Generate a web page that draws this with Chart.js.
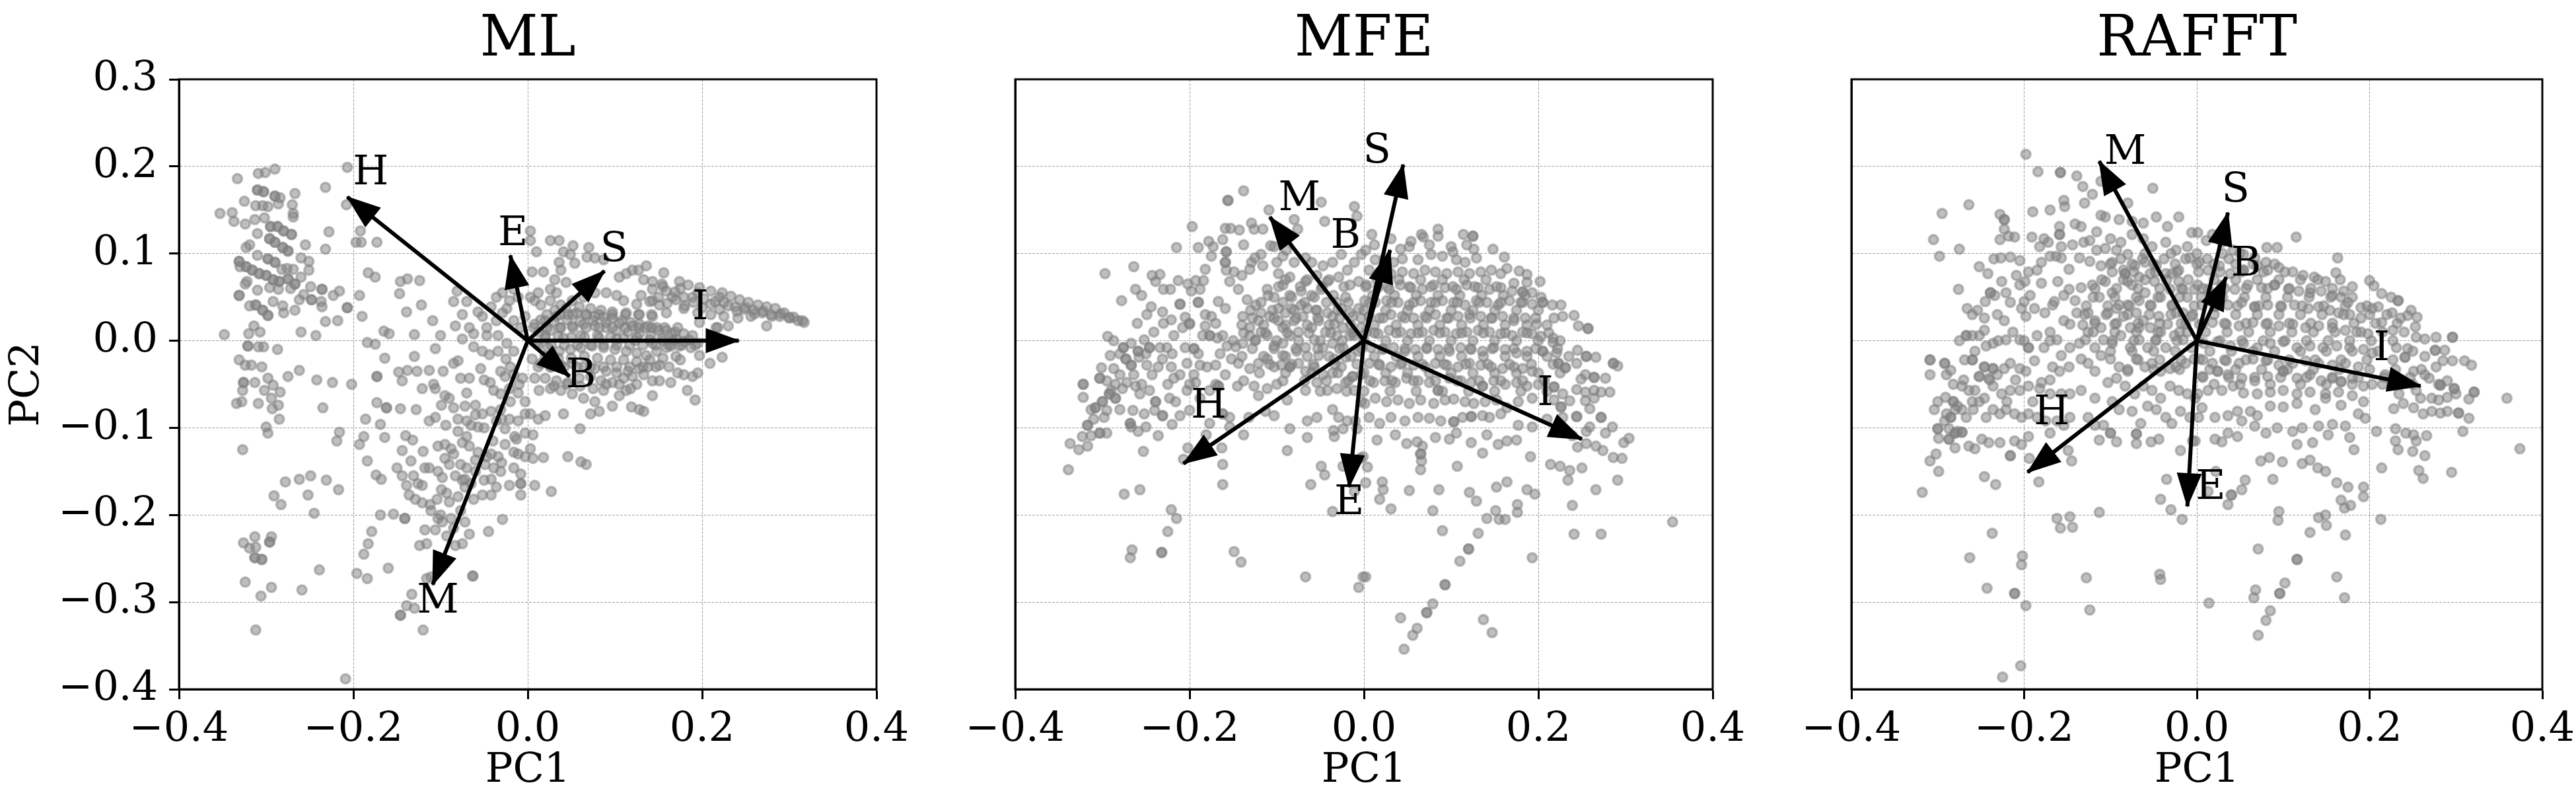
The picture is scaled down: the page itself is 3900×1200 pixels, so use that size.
<!DOCTYPE html>
<html>
<head>
<meta charset="utf-8">
<script src="https://cdn.jsdelivr.net/npm/chart.js@4.4.0/dist/chart.umd.min.js"></script>
<style>
  html, body { margin: 0; padding: 0; background: #fff; overflow: hidden; }
  body { width: 3900px; height: 1200px; position: relative; }
  canvas { position: absolute; top: 0; }
</style>
</head>
<body>
<canvas id="ml" width="1400" height="1200" style="left:0px"></canvas>
<canvas id="mfe" width="1240" height="1200" style="left:1420px"></canvas>
<canvas id="rafft" width="1230" height="1200" style="left:2690px"></canvas>
<script>
// axis ticks shared by the three panels
const xTicks = [-0.4, -0.2, 0, 0.2, 0.4];
const xTickLabels = ['\u22120.4', '\u22120.2', '0.0', '0.2', '0.4'];
const yTicks = [-0.4, -0.3, -0.2, -0.1, 0, 0.1, 0.2, 0.3];
const yTickLabels = ['\u22120.4', '\u22120.3', '\u22120.2', '\u22120.1', '0.0', '0.1', '0.2', '0.3'];

// ML panel: PC1 / PC2 scores
const mlPts = [
[-0.207,0.199],[-0.290,0.197],[-0.301,0.193],[-0.309,0.192],[-0.333,0.186],[-0.232,0.176],[-0.310,0.173],[-0.303,0.171],[-0.290,0.166],[-0.284,0.164],
[-0.267,0.169],[-0.325,0.160],[-0.208,0.156],[-0.312,0.155],[-0.304,0.155],[-0.298,0.154],[-0.286,0.157],[-0.270,0.156],[-0.353,0.146],[-0.339,0.147],
[-0.337,0.137],[-0.324,0.134],[-0.313,0.139],[-0.302,0.141],[-0.269,0.146],[-0.269,0.142],[-0.295,0.131],[-0.287,0.131],[-0.280,0.126],[-0.271,0.122],
[-0.310,0.123],[-0.228,0.125],[-0.192,0.126],[-0.296,0.117],[-0.290,0.113],[-0.281,0.107],[-0.275,0.103],[-0.323,0.107],[-0.319,0.110],[-0.255,0.110],
[-0.232,0.105],[-0.197,0.113],[-0.191,0.113],[-0.173,0.113],[-0.331,0.091],[-0.323,0.085],[-0.316,0.081],[-0.308,0.077],[-0.300,0.075],[-0.292,0.070],
[-0.285,0.068],[-0.275,0.071],[-0.267,0.065],[-0.330,0.085],[-0.310,0.098],[-0.298,0.094],[-0.290,0.090],[-0.282,0.082],[-0.276,0.083],[-0.269,0.082],
[-0.260,0.095],[-0.251,0.091],[-0.251,0.081],[-0.260,0.073],[-0.324,0.065],[-0.322,0.068],[-0.331,0.052],[-0.310,0.058],[-0.296,0.061],[-0.286,0.059],
[-0.272,0.060],[-0.257,0.053],[-0.249,0.062],[-0.236,0.059],[-0.223,0.052],[-0.216,0.057],[-0.248,0.047],[-0.237,0.045],[-0.207,0.038],[-0.193,0.052],
[-0.183,0.078],[-0.175,0.073],[-0.146,0.068],[-0.138,0.071],[-0.124,0.069],[-0.147,0.054],[-0.312,0.041],[-0.304,0.035],[-0.298,0.029],[-0.319,0.040],
[-0.292,0.045],[-0.281,0.040],[-0.280,0.032],[-0.267,0.035],[-0.262,0.047],[-0.236,0.039],[-0.232,0.022],[-0.218,0.023],[-0.190,0.028],[-0.139,0.033],
[-0.122,0.041],[-0.109,0.023],[-0.348,0.007],[-0.320,0.008],[-0.314,0.017],[-0.307,0.010],[-0.260,0.010],[-0.243,0.006],[-0.165,0.011],[-0.159,0.008],
[-0.130,0.007],[-0.100,0.006],[-0.321,-0.006],[-0.309,-0.007],[-0.303,-0.007],[-0.287,-0.010],[-0.184,-0.002],[-0.175,-0.004],[-0.164,-0.020],[-0.130,-0.018],
[-0.106,-0.009],[-0.331,-0.022],[-0.324,-0.028],[-0.317,-0.028],[-0.305,-0.030],[-0.275,-0.041],[-0.262,-0.034],[-0.242,-0.045],[-0.224,-0.048],[-0.202,-0.050],
[-0.173,-0.041],[-0.148,-0.036],[-0.138,-0.034],[-0.127,-0.035],[-0.113,-0.034],[-0.097,-0.035],[-0.326,-0.048],[-0.313,-0.048],[-0.298,-0.043],[-0.292,-0.051],
[-0.284,-0.059],[-0.327,-0.057],[-0.302,-0.057],[-0.294,-0.066],[-0.286,-0.074],[-0.293,-0.078],[-0.334,-0.072],[-0.328,-0.070],[-0.309,-0.072],[-0.235,-0.077],
[-0.173,-0.071],[-0.162,-0.077],[-0.146,-0.078],[-0.128,-0.079],[-0.108,-0.050],[-0.106,-0.055],[-0.121,-0.055],[-0.144,-0.046],[-0.285,-0.090],[-0.186,-0.090],
[-0.169,-0.096],[-0.300,-0.099],[-0.298,-0.106],[-0.216,-0.105],[-0.219,-0.115],[-0.327,-0.125],[-0.193,-0.119],[-0.188,-0.110],[-0.164,-0.111],[-0.140,-0.109],
[-0.132,-0.114],[-0.120,-0.127],[-0.144,-0.126],[-0.134,-0.138],[-0.184,-0.138],[-0.278,-0.162],[-0.262,-0.159],[-0.249,-0.155],[-0.231,-0.160],[-0.217,-0.171],
[-0.291,-0.178],[-0.252,-0.177],[-0.283,-0.188],[-0.245,-0.198],[-0.174,-0.154],[-0.168,-0.159],[-0.150,-0.146],[-0.118,-0.146],[-0.113,-0.146],[-0.169,-0.200],
[-0.154,-0.199],[-0.141,-0.204],[-0.313,-0.225],[-0.294,-0.225],[-0.326,-0.232],[-0.319,-0.238],[-0.312,-0.237],[-0.296,-0.231],[-0.313,-0.249],[-0.305,-0.251],
[-0.239,-0.263],[-0.324,-0.277],[-0.294,-0.283],[-0.306,-0.293],[-0.259,-0.286],[-0.196,-0.267],[-0.184,-0.273],[-0.160,-0.261],[-0.188,-0.245],[-0.183,-0.233],
[-0.179,-0.219],[-0.133,-0.291],[-0.139,-0.304],[-0.130,-0.307],[-0.146,-0.315],[-0.120,-0.332],[-0.312,-0.332],[-0.209,-0.388],[-0.063,-0.270],[-0.045,-0.219],
[-0.029,-0.205],[-0.008,-0.164],
[-0.085,0.045],[-0.081,0.057],[-0.070,0.045],[-0.075,0.030],[-0.057,0.033],[-0.067,0.015],[-0.052,0.028],[-0.042,0.039],[-0.036,0.050],[-0.029,0.055],
[-0.024,0.037],[-0.016,0.023],[-0.083,0.017],[-0.075,0.002],[-0.062,0.008],[-0.047,0.015],[-0.034,0.006],[-0.024,-0.003],[-0.016,-0.012],[-0.008,0.015],
[-0.003,0.028],[-0.062,-0.007],[-0.052,-0.012],[-0.044,-0.016],[-0.034,-0.012],[-0.025,-0.021],[-0.031,-0.035],[-0.026,-0.041],[-0.016,-0.039],[-0.006,-0.043],
[-0.077,-0.043],[-0.067,-0.043],[-0.085,-0.026],[-0.080,-0.023],[-0.054,-0.032],[-0.043,-0.048],[-0.039,-0.057],[-0.031,-0.061],[-0.021,-0.055],[-0.011,-0.060],
[-0.003,-0.070],[-0.095,-0.063],[-0.090,-0.066],[-0.099,-0.074],[-0.085,-0.077],[-0.072,-0.075],[-0.060,-0.074],[-0.052,-0.084],[-0.042,-0.081],[-0.031,-0.079],
[-0.021,-0.090],[-0.011,-0.092],[-0.003,-0.084],[-0.106,-0.088],[-0.113,-0.092],[-0.094,-0.097],[-0.080,-0.104],[-0.070,-0.092],[-0.065,-0.097],[-0.057,-0.099],
[-0.036,-0.092],[-0.026,-0.101],[-0.013,-0.113],[-0.003,-0.106],[-0.103,-0.121],[-0.095,-0.119],[-0.088,-0.124],[-0.075,-0.117],[-0.067,-0.121],[-0.057,-0.128],
[-0.047,-0.133],[-0.042,-0.130],[-0.034,-0.133],[-0.026,-0.119],[-0.016,-0.128],[-0.011,-0.130],[-0.003,-0.133],[-0.095,-0.135],[-0.090,-0.142],[-0.077,-0.142],
[-0.070,-0.146],[-0.060,-0.137],[-0.049,-0.142],[-0.039,-0.146],[-0.031,-0.150],[-0.016,-0.146],[-0.008,-0.153],[-0.103,-0.150],[-0.098,-0.157],[-0.083,-0.155],
[-0.072,-0.159],[-0.065,-0.164],[-0.042,-0.159],[-0.036,-0.168],[-0.021,-0.166],[-0.008,-0.177],[-0.131,-0.155],[-0.126,-0.164],[-0.121,-0.166],[-0.139,-0.166],
[-0.144,-0.155],[-0.136,-0.177],[-0.129,-0.182],[-0.121,-0.186],[-0.112,-0.188],[-0.104,-0.182],[-0.099,-0.171],[-0.093,-0.175],[-0.080,-0.179],[-0.072,-0.168],
[-0.062,-0.182],[-0.052,-0.177],[-0.042,-0.177],[-0.111,-0.195],[-0.103,-0.204],[-0.098,-0.208],[-0.088,-0.204],[-0.077,-0.195],[-0.072,-0.208],[-0.067,-0.222],
[-0.075,-0.233],[-0.083,-0.235],[-0.093,-0.224],[-0.106,-0.217],[-0.118,-0.217],[-0.124,-0.235],[-0.116,-0.233],[-0.111,-0.271],[-0.116,-0.273],[-0.047,0.006],
[-0.036,0.023],[-0.029,0.032],[-0.011,0.050],[-0.021,0.046],[-0.016,0.059],
[0.003,0.126],[0.003,0.115],[0.026,0.115],[0.036,0.115],[0.052,0.109],[0.070,0.107],[0.010,0.102],[0.041,0.102],[0.049,0.099],[0.036,0.090],
[0.054,0.089],[0.068,0.096],[0.077,0.095],[0.087,0.093],[0.005,0.079],[0.018,0.079],[0.038,0.081],[0.031,0.070],[0.044,0.067],[0.026,0.059],
[0.012,0.055],[0.033,0.055],[0.105,0.073],[0.113,0.077],[0.120,0.081],[0.127,0.081],[0.136,0.086],[0.156,0.078],[0.133,0.070],[0.143,0.068],
[0.154,0.065],[0.174,0.068],[0.184,0.064],[0.197,0.061],[0.210,0.057],[0.223,0.055],[0.233,0.051],[0.243,0.047],[0.253,0.044],[0.264,0.041],
[0.274,0.039],[0.284,0.037],[0.294,0.032],[0.305,0.027],[0.315,0.023],[0.256,0.028],[0.274,0.017],[0.230,0.017],[0.216,0.015],[0.197,0.021],
[0.166,0.050],[0.179,0.050],[0.151,0.041],[0.143,0.046],[0.125,0.042],[0.110,0.046],[0.102,0.052],[0.090,0.055],[0.077,0.055],[0.064,0.050],
[0.051,0.046],[0.038,0.041],[0.026,0.046],[0.015,0.041],[0.008,0.046],[0.003,0.050],
[0.143,0.059],[0.159,0.057],[0.169,0.056],[0.189,0.050],[0.202,0.048],[0.215,0.045],[0.225,0.044],[0.238,0.039],[0.248,0.036],[0.259,0.035],
[0.269,0.032],[0.279,0.030],[0.289,0.028],[0.300,0.027],[0.159,0.032],[0.179,0.037],[0.195,0.032],[0.210,0.030],[0.225,0.028],[0.241,0.026],
[0.008,0.019],[0.020,0.023],[0.033,0.028],[0.046,0.030],[0.056,0.032],[0.067,0.030],[0.077,0.028],[0.087,0.027],[0.097,0.026],[0.108,0.023],
[0.118,0.021],[0.128,0.019],[0.138,0.017],[0.148,0.015],[0.159,0.012],[0.169,0.010],[0.179,0.008],[0.189,0.006],
[0.013,0.010],[0.026,0.012],[0.038,0.015],[0.051,0.017],[0.064,0.019],[0.077,0.017],[0.090,0.015],[0.102,0.012],[0.115,0.010],[0.128,0.008],
[0.141,0.006],[0.154,0.003],[0.166,0.001],[0.179,-0.001],[0.195,-0.003],
[0.010,-0.003],[0.023,-0.008],[0.036,-0.012],[0.049,-0.010],[0.061,-0.008],[0.074,-0.006],[0.087,-0.008],[0.100,-0.010],[0.113,-0.012],[0.125,-0.014],
[0.136,-0.017],[0.148,-0.012],[0.159,-0.008],[0.174,-0.006],[0.187,-0.008],
[0.031,0.035],[0.044,0.037],[0.059,0.039],[0.072,0.037],[0.084,0.035],[0.097,0.033],[0.113,0.032],[0.128,0.030],[0.143,0.028],[0.061,0.006],
[0.082,0.003],[0.102,0.002],[0.123,0.000],[0.143,-0.003],[0.164,-0.006],[0.041,0.003],[0.020,0.003],
[0.005,-0.021],[0.015,-0.026],[0.026,-0.030],[0.038,-0.028],[0.051,-0.026],[0.064,-0.030],[0.077,-0.032],[0.090,-0.035],[0.102,-0.037],[0.115,-0.035],
[0.128,-0.032],[0.138,-0.030],[0.151,-0.028],
[0.008,-0.043],[0.020,-0.043],[0.033,-0.046],[0.046,-0.048],[0.059,-0.043],[0.072,-0.041],[0.084,-0.046],[0.097,-0.048],[0.110,-0.043],[0.120,-0.041],
[0.133,-0.039],[0.143,-0.046],[0.151,-0.046],[0.164,-0.048],[0.172,-0.037],[0.179,-0.039],[0.189,-0.041],[0.195,-0.037],
[0.013,-0.057],[0.026,-0.055],[0.038,-0.057],[0.051,-0.061],[0.064,-0.066],[0.077,-0.070],[0.087,-0.057],[0.097,-0.075],[0.105,-0.063],[0.113,-0.057],
[0.118,-0.055],[0.143,-0.063],[0.133,-0.081],[0.128,-0.079],[0.119,-0.076],[0.082,-0.081],[0.072,-0.084],[0.041,-0.084],[0.020,-0.086],[0.012,-0.090],
[0.003,-0.084],[0.183,-0.057],[0.192,-0.068],[0.060,-0.101],[0.006,-0.108],[0.003,-0.124],[0.006,-0.135],[0.018,-0.134],[0.046,-0.133],[0.061,-0.139],
[0.067,-0.142],[0.008,-0.166],[0.027,-0.173],[0.209,-0.026],[0.223,-0.019],[0.175,-0.022],[0.197,-0.017],[0.218,0.015],[0.310,0.023],[0.317,0.021]
];
// ML: overlapping observations in the densest places
const mlDensePts = [
[-0.310,0.173],[-0.303,0.171],[-0.290,0.166],[-0.295,0.131],[-0.287,0.131],[-0.280,0.126],[-0.271,0.122],[-0.296,0.117],[-0.290,0.113],[-0.281,0.107],
[-0.275,0.103],[-0.331,0.091],[-0.323,0.085],[-0.316,0.081],[-0.308,0.077],[-0.300,0.075],[-0.292,0.070],[-0.285,0.068],[-0.275,0.071],[-0.267,0.065],
[-0.298,0.094],[-0.290,0.090],[-0.331,0.052],[-0.236,0.059],[-0.248,0.047],[-0.207,0.038],[-0.312,0.041],[-0.304,0.035],[-0.298,0.029],[-0.321,-0.006],
[-0.326,-0.048],[-0.296,-0.231],[-0.313,-0.249],[-0.305,-0.251],[-0.173,-0.041],[-0.162,-0.077],[-0.141,-0.204],[-0.146,-0.315],[-0.063,-0.270],[-0.008,-0.164],
[0.015,0.024],[0.030,0.022],[0.045,0.024],[0.060,0.022],[0.075,0.023],[0.090,0.021],[0.105,0.020],[0.120,0.017],[0.135,0.015],[0.150,0.012],[0.165,0.008],
[0.020,0.006],[0.035,0.005],[0.050,0.004],[0.065,0.004],[0.080,0.006],[0.095,0.004],[0.110,0.003],[0.125,0.004],[0.140,0.001],[0.155,0.000],[0.170,0.002],[0.185,0.001],
[0.020,-0.018],[0.035,-0.020],[0.050,-0.020],[0.065,-0.018],[0.080,-0.020],[0.095,-0.022],[0.110,-0.022],[0.125,-0.024],[0.140,-0.022],[0.155,-0.020],[0.170,-0.018],
[0.030,-0.052],[0.045,-0.050],[0.060,-0.052],[0.075,-0.055],[0.090,-0.050],[0.105,-0.050],[0.125,-0.050],
[0.130,0.052],[0.150,0.050],[0.170,0.047],[0.190,0.044],[0.210,0.042],[0.230,0.040],[0.250,0.038],[0.270,0.034],[0.290,0.031],[0.155,0.062],
[0.175,0.060],[0.195,0.055],[0.220,0.050],
[-0.080,-0.090],[-0.070,-0.110],[-0.060,-0.085],[-0.050,-0.100],[-0.040,-0.115],[-0.030,-0.090],[-0.020,-0.070],[-0.085,-0.130],[-0.075,-0.160],[-0.090,-0.185],
[-0.100,-0.200],[-0.085,-0.215],[-0.060,-0.150],[-0.050,-0.160],[-0.030,-0.140],[-0.015,-0.110],[-0.010,-0.050],[-0.020,-0.030],[-0.050,-0.045],[-0.070,-0.060],
[0.022,0.030],[0.037,0.030],[0.052,0.030],[0.067,0.030],[0.082,0.030],[0.097,0.030],[0.112,0.030],[0.127,0.030],[0.142,0.030],
[0.007,0.015],[0.022,0.015],[0.037,0.015],[0.052,0.015],[0.067,0.015],[0.082,0.015],[0.097,0.015],[0.112,0.015],[0.127,0.015],[0.142,0.015],[0.157,0.015],[0.172,0.015],
[0.012,-0.005],[0.027,-0.005],[0.042,-0.005],[0.057,-0.005],[0.072,-0.005],[0.087,-0.005],[0.102,-0.005],[0.117,-0.005],[0.132,-0.005],[0.147,-0.005],
[0.162,-0.005],[0.177,-0.005],[0.192,-0.005],
[0.012,-0.030],[0.027,-0.030],[0.042,-0.030],[0.057,-0.030],[0.072,-0.030],[0.087,-0.030],[0.102,-0.030],[0.117,-0.030],[0.132,-0.030],[0.147,-0.030],[0.162,-0.030],
[0.140,0.045],[0.160,0.043],[0.180,0.040],[0.200,0.038],[0.220,0.036],[0.240,0.034],[0.260,0.031],[0.280,0.028],[0.300,0.026]
];
const mlArrowNames = ['H', 'E', 'S', 'I', 'B', 'M'];
const mlArrowTips = [[-0.207,0.165],[-0.020,0.098],[0.088,0.080],[0.242,0.000],[0.048,-0.041],[-0.109,-0.280]];
const mlArrowLabelAt = [[-0.180,0.192],[-0.017,0.122],[0.099,0.104],[0.198,0.037],[0.061,-0.041],[-0.103,-0.300]];

// MFE panel
const mfePts = [
[-0.138,0.172],[-0.156,0.161],[-0.109,0.150],[-0.049,0.159],[-0.011,0.154],[-0.008,0.143],[-0.197,0.131],[-0.159,0.129],[-0.153,0.129],[-0.143,0.127],
[-0.129,0.135],[-0.126,0.128],[-0.116,0.128],[-0.080,0.139],[-0.076,0.128],[-0.045,0.137],[-0.178,0.114],[-0.162,0.116],[-0.138,0.110],[-0.107,0.109],
[-0.103,0.108],[-0.089,0.104],[-0.215,0.107],[-0.190,0.107],[-0.173,0.108],[-0.158,0.102],[-0.118,0.099],[-0.297,0.077],[-0.264,0.085],[-0.243,0.075],
[-0.234,0.076],[-0.213,0.069],[-0.202,0.065],[-0.193,0.069],[-0.184,0.069],[-0.182,0.082],[-0.175,0.097],[-0.159,0.090],[-0.158,0.081],[-0.149,0.079],
[-0.140,0.075],[-0.131,0.082],[-0.129,0.090],[-0.125,0.095],[-0.116,0.086],[-0.100,0.090],[-0.093,0.097],[-0.080,0.090],[-0.067,0.095],[-0.060,0.090],
[-0.047,0.086],[-0.036,0.090],[-0.026,0.099],[-0.019,0.081],[-0.011,0.090],[-0.003,0.099],
[-0.262,0.059],[-0.255,0.052],[-0.278,0.046],[-0.244,0.039],[-0.249,0.030],[-0.231,0.033],[-0.221,0.024],[-0.211,0.042],[-0.205,0.027],[-0.190,0.044],
[-0.182,0.030],[-0.175,0.028],[-0.167,0.045],[-0.159,0.037],[-0.154,0.068],[-0.144,0.059],[-0.134,0.047],[-0.124,0.041],[-0.118,0.032],[-0.111,0.059],
[-0.103,0.050],[-0.093,0.064],[-0.083,0.050],[-0.072,0.057],[-0.065,0.037],[-0.057,0.050],[-0.049,0.059],[-0.042,0.032],[-0.031,0.044],[-0.021,0.050],
[-0.013,0.028],[-0.006,0.037],[-0.239,0.068],[-0.230,0.059],[-0.222,0.059],[-0.198,0.057],[-0.188,0.059],[-0.208,0.015],[-0.200,0.019],[-0.182,0.017],
[-0.139,0.028],[-0.131,0.015],[-0.121,0.023],[-0.108,0.028],[-0.098,0.023],[-0.090,0.032],[-0.080,0.023],[-0.070,0.028],[-0.060,0.015],[-0.052,0.023],
[-0.044,0.010],[-0.034,0.019],[-0.024,0.015],[-0.016,0.032],[-0.011,0.006],[-0.003,0.015],
[-0.294,0.005],[-0.287,0.000],[-0.276,-0.008],[-0.267,-0.003],[-0.259,-0.012],[-0.252,0.001],[-0.246,-0.008],[-0.241,0.010],[-0.234,-0.008],[-0.226,-0.008],
[-0.218,0.006],[-0.205,-0.008],[-0.195,-0.009],[-0.185,0.006],[-0.177,0.006],[-0.168,0.003],[-0.162,0.006],[-0.157,-0.006],[-0.147,-0.007],[-0.139,-0.003],
[-0.131,0.006],[-0.124,0.001],[-0.118,0.010],[-0.111,0.006],[-0.103,-0.006],[-0.093,-0.003],[-0.085,0.006],[-0.077,-0.012],[-0.067,-0.008],[-0.057,0.001],
[-0.047,-0.008],[-0.036,-0.003],[-0.024,-0.008],[-0.016,0.006],[-0.006,-0.012],
[-0.322,-0.050],[-0.322,-0.065],[-0.301,-0.031],[-0.303,-0.043],[-0.295,-0.046],[-0.291,-0.017],[-0.287,-0.032],[-0.280,-0.039],[-0.273,-0.021],[-0.267,-0.028],
[-0.264,-0.039],[-0.258,-0.019],[-0.249,-0.028],[-0.243,-0.039],[-0.236,-0.030],[-0.231,-0.021],[-0.221,-0.030],[-0.218,-0.043],[-0.211,-0.039],[-0.203,-0.026],
[-0.195,-0.039],[-0.188,-0.028],[-0.180,-0.030],[-0.170,-0.028],[-0.159,-0.039],[-0.152,-0.021],[-0.144,-0.026],[-0.131,-0.032],[-0.121,-0.026],[-0.111,-0.021],
[-0.103,-0.030],[-0.095,-0.028],[-0.085,-0.030],[-0.075,-0.026],[-0.067,-0.035],[-0.057,-0.030],[-0.047,-0.039],[-0.036,-0.037],[-0.026,-0.030],[-0.013,-0.041],
[-0.003,-0.039],
[-0.313,-0.079],[-0.308,-0.077],[-0.300,-0.070],[-0.292,-0.061],[-0.285,-0.066],[-0.280,-0.079],[-0.298,-0.088],[-0.310,-0.090],[-0.317,-0.097],[-0.313,-0.109],
[-0.303,-0.106],[-0.295,-0.106],[-0.323,-0.110],[-0.337,-0.118],[-0.327,-0.125],[-0.317,-0.121],[-0.339,-0.148],[-0.290,-0.057],[-0.277,-0.055],[-0.272,-0.048],
[-0.262,-0.052],[-0.257,-0.061],[-0.252,-0.084],[-0.246,-0.057],[-0.239,-0.070],[-0.231,-0.086],[-0.223,-0.066],[-0.216,-0.070],[-0.211,-0.086],[-0.203,-0.057],
[-0.193,-0.048],[-0.188,-0.066],[-0.177,-0.057],[-0.167,-0.052],[-0.162,-0.084],[-0.154,-0.088],[-0.145,-0.052],[-0.138,-0.046],[-0.126,-0.052],[-0.121,-0.063],
[-0.111,-0.055],[-0.100,-0.050],[-0.093,-0.046],[-0.088,-0.068],[-0.103,-0.086],[-0.113,-0.081],[-0.067,-0.057],[-0.054,-0.048],[-0.042,-0.057],[-0.031,-0.055],
[-0.021,-0.048],[-0.011,-0.057],[-0.003,-0.070],[-0.036,-0.079],[-0.029,-0.088],[-0.019,-0.092],[-0.008,-0.101],[-0.065,-0.092],[-0.054,-0.088],[-0.268,-0.095],
[-0.267,-0.099],[-0.259,-0.104],[-0.250,-0.099],[-0.236,-0.109],[-0.220,-0.096],[-0.181,-0.108],[-0.177,-0.095],[-0.163,-0.123],[-0.154,-0.099],[-0.138,-0.108],
[-0.132,-0.088],[-0.085,-0.101],[-0.065,-0.111],[-0.035,-0.103],[-0.034,-0.110],[-0.024,-0.101],[-0.010,-0.092],[-0.253,-0.127],[-0.202,-0.123],[-0.207,-0.136],
[-0.162,-0.142],[-0.162,-0.165],[-0.088,-0.126],[-0.049,-0.144],[-0.045,-0.154],[-0.061,-0.165],[-0.024,-0.144],[-0.004,-0.135],[-0.275,-0.176],[-0.257,-0.171],
[-0.221,-0.194],[-0.215,-0.204],[-0.225,-0.219],[-0.266,-0.240],[-0.268,-0.249],[-0.232,-0.243],[-0.149,-0.242],[-0.141,-0.254],[-0.067,-0.271],[-0.036,-0.196],
[-0.011,-0.173],[-0.001,-0.271],[-0.006,-0.283],
[-0.098,0.077],[-0.085,0.073],[-0.067,0.068],[-0.054,0.075],[-0.042,0.068],[-0.029,0.073],[-0.016,0.064],[-0.006,0.068],[-0.098,0.037],[-0.083,0.037],
[-0.072,0.041],[-0.054,0.035],[-0.036,0.028],[-0.026,0.037],[-0.093,0.015],[-0.075,0.010],[-0.031,0.006],[-0.052,-0.017],[-0.034,-0.021],[-0.021,-0.019],
[-0.093,-0.017],
[0.009,0.122],[0.012,0.110],[0.031,0.117],[0.042,0.105],[0.052,0.108],[0.054,0.114],[0.066,0.122],[0.068,0.119],[0.075,0.110],[0.085,0.128],
[0.085,0.120],[0.100,0.108],[0.102,0.102],[0.114,0.122],[0.118,0.110],[0.125,0.120],[0.126,0.105],[0.129,0.095],[0.148,0.105],[0.161,0.096],
[0.164,0.083],[0.178,0.080],[0.187,0.076],[0.202,0.068],[0.187,0.067],[0.172,0.066],[0.002,0.104],[0.013,0.093],[0.024,0.095],[0.034,0.090],
[0.044,0.094],[0.062,0.093],[0.077,0.099],[0.090,0.097],[0.106,0.093],[0.116,0.090],
[0.006,0.081],[0.018,0.079],[0.031,0.077],[0.044,0.079],[0.057,0.077],[0.070,0.081],[0.082,0.079],[0.095,0.077],[0.108,0.079],[0.121,0.077],
[0.134,0.079],[0.146,0.081],[0.157,0.077],
[0.003,0.064],[0.016,0.061],[0.029,0.059],[0.042,0.064],[0.054,0.061],[0.067,0.059],[0.080,0.064],[0.093,0.061],[0.106,0.059],[0.118,0.064],
[0.131,0.061],[0.144,0.059],[0.157,0.061],[0.170,0.057],[0.182,0.056],[0.193,0.055],[0.203,0.050],
[0.001,0.046],[0.013,0.044],[0.026,0.046],[0.039,0.044],[0.052,0.041],[0.065,0.046],[0.077,0.044],[0.090,0.046],[0.103,0.044],[0.116,0.041],
[0.129,0.046],[0.141,0.044],[0.154,0.041],[0.167,0.046],[0.180,0.044],[0.193,0.042],[0.205,0.044],[0.216,0.041],[0.226,0.041],
[0.006,0.028],[0.018,0.026],[0.031,0.030],[0.044,0.028],[0.057,0.026],[0.070,0.028],[0.082,0.030],[0.095,0.026],[0.108,0.028],[0.121,0.030],
[0.134,0.028],[0.146,0.026],[0.159,0.028],[0.172,0.023],[0.185,0.026],[0.198,0.019],[0.218,0.026],[0.228,0.028],[0.241,0.029],[0.246,0.017],
[0.257,0.014],
[0.003,0.010],[0.016,0.008],[0.029,0.012],[0.042,0.010],[0.054,0.008],[0.067,0.010],[0.080,0.012],[0.093,0.010],[0.106,0.008],[0.118,0.010],
[0.131,0.012],[0.144,0.010],[0.157,0.008],[0.170,0.006],[0.182,0.010],[0.193,0.008],[0.203,0.005],[0.217,0.003],[0.217,-0.002],
[0.008,-0.008],[0.021,-0.010],[0.034,-0.008],[0.047,-0.012],[0.059,-0.010],[0.072,-0.008],[0.085,-0.010],[0.098,-0.012],[0.111,-0.008],[0.123,-0.010],
[0.136,-0.012],[0.149,-0.008],[0.162,-0.010],[0.175,-0.014],[0.187,-0.012],[0.205,-0.012],[0.221,-0.014],[0.245,-0.011],[0.255,-0.018],[0.266,-0.019],
[0.286,-0.026],[0.291,-0.029],
[0.006,-0.026],[0.018,-0.028],[0.031,-0.030],[0.044,-0.026],[0.057,-0.028],[0.070,-0.030],[0.082,-0.026],[0.095,-0.028],[0.108,-0.030],[0.121,-0.026],
[0.134,-0.028],[0.146,-0.030],[0.159,-0.032],[0.172,-0.030],[0.182,-0.032],[0.193,-0.035],[0.223,-0.026],[0.231,-0.031],[0.244,-0.026],[0.254,-0.039],
[0.264,-0.042],[0.277,-0.043],
[0.011,-0.048],[0.024,-0.046],[0.036,-0.048],[0.049,-0.043],[0.062,-0.046],[0.075,-0.048],[0.085,-0.057],[0.098,-0.043],[0.111,-0.046],[0.123,-0.048],
[0.136,-0.052],[0.149,-0.046],[0.162,-0.050],[0.175,-0.048],[0.187,-0.052],[0.200,-0.050],[0.218,-0.053],[0.228,-0.061],[0.244,-0.056],[0.254,-0.059],
[0.264,-0.057],[0.272,-0.059],[0.282,-0.059],[0.249,-0.044],
[0.001,-0.072],[0.013,-0.066],[0.026,-0.070],[0.039,-0.068],[0.052,-0.072],[0.065,-0.068],[0.080,-0.072],[0.093,-0.068],[0.103,-0.067],[0.116,-0.070],
[0.126,-0.072],[0.139,-0.070],[0.152,-0.068],[0.164,-0.077],[0.177,-0.070],[0.193,-0.066],[0.218,-0.068],[0.226,-0.076],[0.236,-0.069],[0.254,-0.069],
[0.259,-0.078],[0.264,-0.066],
[0.006,-0.088],[0.018,-0.095],[0.031,-0.088],[0.047,-0.092],[0.062,-0.088],[0.075,-0.089],[0.088,-0.092],[0.103,-0.093],[0.113,-0.088],[0.123,-0.087],
[0.136,-0.086],[0.144,-0.088],[0.157,-0.084],[0.177,-0.097],[0.193,-0.099],[0.210,-0.090],[0.228,-0.088],[0.244,-0.087],[0.259,-0.099],[0.272,-0.088],
[0.285,-0.099],[0.277,-0.106],[0.255,-0.104],
[0.015,-0.114],[0.036,-0.108],[0.049,-0.118],[0.061,-0.116],[0.067,-0.121],[0.082,-0.111],[0.098,-0.113],[0.106,-0.106],[0.123,-0.117],[0.141,-0.108],
[0.154,-0.119],[0.164,-0.115],[0.175,-0.114],[0.239,-0.109],[0.245,-0.122],[0.255,-0.118],[0.266,-0.121],[0.274,-0.126],[0.298,-0.117],[0.304,-0.112],
[-0.001,-0.133],[0.004,-0.145],[0.065,-0.130],[0.066,-0.138],[0.065,-0.148],[0.107,-0.144],[0.136,-0.129],[0.191,-0.133],[0.214,-0.142],[0.225,-0.144],
[0.236,-0.149],[0.234,-0.160],[0.250,-0.146],[0.286,-0.134],[0.296,-0.135],[0.002,-0.163],[0.021,-0.162],[0.022,-0.171],[0.018,-0.182],[0.031,-0.193],
[0.052,-0.172],[0.086,-0.171],[0.121,-0.174],[0.129,-0.184],[0.152,-0.168],[0.164,-0.162],[0.187,-0.171],[0.196,-0.176],[0.176,-0.188],[0.176,-0.197],
[0.151,-0.195],[0.141,-0.204],[0.155,-0.205],[0.162,-0.205],[0.079,-0.195],[0.239,-0.189],[0.266,-0.171],[0.291,-0.160],[0.354,-0.208],[0.241,-0.222],
[0.272,-0.222],[0.090,-0.218],[0.131,-0.221],[0.120,-0.239],[0.110,-0.253],[0.193,-0.249],[0.002,-0.271],[0.093,-0.280],[0.079,-0.302],[0.072,-0.312],
[0.042,-0.318],[0.061,-0.330],[0.056,-0.338],[0.046,-0.354],[0.137,-0.320],[0.147,-0.335]
];
// MFE: overlapping observations in the densest places
const mfeDensePts = [
[-0.156,0.161],[-0.158,0.102],[-0.159,0.090],[-0.276,-0.008],[-0.259,-0.012],[-0.246,-0.008],[-0.195,-0.009],[-0.177,0.006],[-0.322,-0.050],[-0.303,-0.043],
[-0.273,-0.021],[-0.267,-0.028],[-0.308,-0.077],[-0.300,-0.070],[-0.292,-0.061],[-0.285,-0.066],[-0.317,-0.097],[-0.303,-0.106],[-0.239,-0.070],[-0.231,-0.086],
[-0.167,-0.052],[-0.162,-0.084],[-0.268,-0.095],[-0.232,-0.243],[-0.211,0.042],[-0.190,0.044],[-0.085,-0.030],[-0.013,-0.041],[0.125,0.120],[0.182,0.056],
[0.205,0.044],[0.257,0.014],[0.205,-0.012],[0.255,-0.018],[0.286,-0.026],[0.223,-0.026],[0.231,-0.031],[0.264,-0.042],[0.085,-0.057],[0.136,-0.052],
[0.218,-0.053],[0.226,-0.076],[0.103,-0.093],[0.123,-0.087],[0.244,-0.087],[0.272,-0.088],[0.065,-0.130],[0.120,-0.239],[0.093,-0.280],[0.072,-0.312],
[-0.090,0.070],[-0.065,0.070],[-0.040,0.070],[0.015,0.070],[0.040,0.070],[0.065,0.070],[0.090,0.070],[0.115,0.070],[0.140,0.070],
[-0.110,0.052],[-0.085,0.052],[-0.060,0.052],[-0.035,0.052],[0.010,0.052],[0.035,0.052],[0.060,0.052],[0.085,0.052],[0.110,0.052],[0.135,0.052],[0.160,0.052],[0.185,0.052],
[-0.130,0.035],[-0.105,0.035],[-0.080,0.035],[-0.055,0.035],[-0.030,0.035],[0.000,0.035],[0.025,0.035],[0.050,0.035],[0.075,0.035],[0.100,0.035],[0.125,0.035],
[0.150,0.035],[0.175,0.035],[0.200,0.035],
[-0.140,0.018],[-0.115,0.018],[-0.090,0.018],[-0.065,0.018],[-0.040,0.018],[-0.015,0.018],[0.012,0.018],[0.037,0.018],[0.062,0.018],[0.087,0.018],[0.112,0.018],
[0.137,0.018],[0.162,0.018],[0.187,0.018],[0.210,0.018],
[-0.150,0.000],[-0.125,0.000],[-0.100,0.000],[-0.075,0.000],[-0.050,0.000],[-0.025,0.000],[0.000,0.000],[0.025,0.000],[0.050,0.000],[0.075,0.000],[0.100,0.000],
[0.125,0.000],[0.150,0.000],[0.175,0.000],[0.200,0.000],[0.225,0.000],
[-0.140,-0.018],[-0.115,-0.018],[-0.090,-0.018],[-0.065,-0.018],[-0.040,-0.018],[-0.015,-0.018],[0.012,-0.018],[0.037,-0.018],[0.062,-0.018],[0.087,-0.018],
[0.112,-0.018],[0.137,-0.018],[0.162,-0.018],[0.187,-0.018],[0.210,-0.018],[0.235,-0.018],
[-0.120,-0.037],[-0.090,-0.037],[-0.060,-0.037],[-0.030,-0.037],[0.000,-0.037],[0.025,-0.037],[0.050,-0.037],[0.075,-0.037],[0.100,-0.037],[0.125,-0.037],
[0.150,-0.037],[0.175,-0.037],[0.200,-0.037],[0.225,-0.037],
[-0.050,-0.058],[-0.020,-0.058],[0.000,-0.058],[0.030,-0.058],[0.060,-0.058],[0.090,-0.058],[0.120,-0.058],[0.150,-0.058],[0.180,-0.058],[0.210,-0.058],
[-0.280,-0.015],[-0.250,-0.015],[-0.220,-0.015],[-0.190,-0.015],[-0.165,-0.015],[-0.285,-0.050],[-0.255,-0.050],[-0.225,-0.050],[-0.200,-0.050],[-0.170,-0.050],
[-0.260,0.020],[-0.230,0.020],[-0.200,0.020],[-0.170,0.020],[-0.295,-0.080],[-0.265,-0.080],[-0.240,-0.080],[-0.200,-0.080],
[-0.098,0.062],[-0.073,0.062],[-0.048,0.062],[-0.023,0.062],[0.002,0.062],[0.027,0.062],[0.052,0.062],[0.077,0.062],[0.102,0.062],[0.127,0.062],[0.152,0.062],
[-0.118,0.044],[-0.093,0.044],[-0.068,0.044],[-0.043,0.044],[-0.018,0.044],[0.007,0.044],[0.032,0.044],[0.057,0.044],[0.082,0.044],[0.107,0.044],[0.132,0.044],
[0.157,0.044],[0.182,0.044],
[-0.128,0.026],[-0.103,0.026],[-0.078,0.026],[-0.053,0.026],[-0.028,0.026],[-0.003,0.026],[0.022,0.026],[0.047,0.026],[0.072,0.026],[0.097,0.026],[0.122,0.026],
[0.147,0.026],[0.172,0.026],[0.197,0.026],
[-0.138,0.009],[-0.113,0.009],[-0.088,0.009],[-0.063,0.009],[-0.038,0.009],[-0.013,0.009],[0.012,0.009],[0.037,0.009],[0.062,0.009],[0.087,0.009],[0.112,0.009],
[0.137,0.009],[0.162,0.009],[0.187,0.009],[0.212,0.009],
[-0.128,-0.009],[-0.103,-0.009],[-0.078,-0.009],[-0.053,-0.009],[-0.028,-0.009],[-0.003,-0.009],[0.022,-0.009],[0.047,-0.009],[0.072,-0.009],[0.097,-0.009],
[0.122,-0.009],[0.147,-0.009],[0.172,-0.009],[0.197,-0.009],[0.222,-0.009],
[-0.108,-0.027],[-0.083,-0.027],[-0.058,-0.027],[-0.033,-0.027],[-0.008,-0.027],[0.017,-0.027],[0.042,-0.027],[0.067,-0.027],[0.092,-0.027],[0.117,-0.027],
[0.142,-0.027],[0.167,-0.027],[0.192,-0.027],[0.217,-0.027],
[-0.068,-0.046],[-0.043,-0.046],[-0.018,-0.046],[0.007,-0.046],[0.032,-0.046],[0.057,-0.046],[0.082,-0.046],[0.107,-0.046],[0.132,-0.046],[0.157,-0.046],
[0.182,-0.046],[0.207,-0.046]
];
const mfeArrowNames = ['S', 'M', 'B', 'H', 'E', 'I'];
const mfeArrowTips = [[0.045,0.202],[-0.108,0.142],[0.030,0.104],[-0.207,-0.141],[-0.017,-0.168],[0.250,-0.113]];
const mfeArrowLabelAt = [[0.015,0.217],[-0.074,0.162],[-0.021,0.119],[-0.178,-0.076],[-0.017,-0.187],[0.208,-0.062]];

// RAFFT panel
const rafftPts = [
[-0.198,0.214],[-0.184,0.194],[-0.158,0.193],[-0.139,0.189],[-0.132,0.177],[-0.121,0.168],[-0.111,0.183],[-0.051,0.175],[-0.264,0.156],[-0.295,0.146],
[-0.228,0.145],[-0.223,0.139],[-0.190,0.148],[-0.170,0.150],[-0.154,0.161],[-0.153,0.154],[-0.130,0.158],[-0.080,0.158],[-0.305,0.116],[-0.298,0.097],
[-0.275,0.105],[-0.276,0.059],[-0.252,0.085],[-0.242,0.077],[-0.235,0.094],[-0.227,0.095],[-0.223,0.128],[-0.218,0.120],[-0.211,0.119],[-0.228,0.116],
[-0.191,0.119],[-0.177,0.117],[-0.159,0.122],[-0.159,0.131],[-0.141,0.134],[-0.134,0.131],[-0.116,0.125],[-0.111,0.144],[-0.106,0.142],[-0.090,0.139],
[-0.075,0.137],[-0.062,0.135],[-0.047,0.142],[-0.034,0.131],[-0.021,0.142],[-0.006,0.124],[-0.100,0.117],[-0.088,0.113],[-0.075,0.122],[-0.062,0.117],
[-0.052,0.108],[-0.036,0.113],[-0.024,0.104],[-0.011,0.108],[-0.182,0.108],[-0.172,0.113],[-0.157,0.095],[-0.157,0.108],[-0.144,0.110],[-0.131,0.113],
[-0.124,0.115],[-0.116,0.104],[-0.106,0.106],[-0.093,0.104],[-0.080,0.099],[-0.216,0.096],[-0.205,0.092],[-0.195,0.079],[-0.185,0.081],[-0.180,0.090],
[-0.170,0.097],[-0.163,0.097],[-0.148,0.082],[-0.136,0.095],[-0.124,0.091],[-0.111,0.086],[-0.098,0.090],[-0.085,0.081],[-0.072,0.086],[-0.060,0.090],
[-0.047,0.086],[-0.036,0.077],[-0.021,0.081],[-0.008,0.095],
[-0.266,0.037],[-0.260,0.030],[-0.254,0.035],[-0.246,0.026],[-0.239,0.055],[-0.234,0.052],[-0.226,0.068],[-0.221,0.055],[-0.209,0.075],[-0.205,0.064],
[-0.199,0.068],[-0.193,0.052],[-0.188,0.037],[-0.180,0.066],[-0.176,0.032],[-0.167,0.041],[-0.161,0.068],[-0.154,0.052],[-0.148,0.059],[-0.141,0.046],
[-0.134,0.061],[-0.126,0.032],[-0.121,0.064],[-0.113,0.050],[-0.106,0.068],[-0.098,0.055],[-0.090,0.041],[-0.083,0.077],[-0.075,0.064],[-0.067,0.046],
[-0.060,0.055],[-0.049,0.068],[-0.042,0.050],[-0.031,0.059],[-0.021,0.068],[-0.011,0.050],[-0.003,0.059],[-0.216,0.044],[-0.203,0.037],[-0.198,0.028],
[-0.223,0.023],[-0.231,0.030],[-0.246,0.012],[-0.236,-0.003],[-0.244,-0.006],[-0.252,0.006],[-0.260,0.006],[-0.267,0.006],[-0.275,0.000],[-0.257,-0.012],
[-0.221,0.001],[-0.213,0.010],[-0.205,0.001],[-0.195,-0.008],[-0.185,0.006],[-0.177,-0.008],[-0.170,0.010],[-0.162,0.001],[-0.154,0.023],[-0.147,0.019],
[-0.139,0.032],[-0.132,0.018],[-0.126,0.010],[-0.118,0.023],[-0.111,0.015],[-0.103,0.032],[-0.095,0.019],[-0.085,0.028],[-0.077,0.015],[-0.070,0.032],
[-0.062,0.023],[-0.054,0.015],[-0.044,0.028],[-0.034,0.019],[-0.024,0.032],[-0.013,0.019],[-0.006,0.028],[-0.136,-0.003],[-0.129,0.001],[-0.118,-0.008],
[-0.108,0.001],[-0.098,-0.003],[-0.088,0.006],[-0.077,-0.008],[-0.067,0.001],[-0.057,-0.008],[-0.047,0.001],[-0.036,-0.008],[-0.026,0.006],[-0.016,0.001],
[-0.006,-0.008],[-0.147,-0.008],[-0.157,-0.017],
[-0.309,-0.022],[-0.309,-0.039],[-0.292,-0.026],[-0.290,-0.039],[-0.285,-0.034],[-0.269,-0.022],[-0.260,-0.022],[-0.246,-0.030],[-0.236,-0.032],[-0.252,-0.041],
[-0.241,-0.043],[-0.231,-0.039],[-0.223,-0.032],[-0.216,-0.026],[-0.205,-0.032],[-0.198,-0.035],[-0.188,-0.023],[-0.180,-0.048],[-0.167,-0.030],[-0.159,-0.035],
[-0.148,-0.030],[-0.134,-0.021],[-0.126,-0.026],[-0.118,-0.035],[-0.111,-0.017],[-0.100,-0.021],[-0.090,-0.030],[-0.080,-0.035],[-0.070,-0.021],[-0.060,-0.030],
[-0.052,-0.026],[-0.042,-0.035],[-0.031,-0.032],[-0.024,-0.030],[-0.013,-0.026],[-0.003,-0.021],
[-0.282,-0.050],[-0.272,-0.052],[-0.264,-0.057],[-0.257,-0.057],[-0.246,-0.066],[-0.236,-0.052],[-0.226,-0.061],[-0.216,-0.057],[-0.205,-0.057],[-0.195,-0.052],
[-0.182,-0.055],[-0.170,-0.061],[-0.157,-0.061],[-0.147,-0.061],[-0.134,-0.057],[-0.118,-0.066],[-0.103,-0.048],[-0.093,-0.043],[-0.083,-0.052],[-0.072,-0.061],
[-0.062,-0.052],[-0.052,-0.057],[-0.042,-0.066],[-0.031,-0.052],[-0.021,-0.057],[-0.011,-0.061],
[-0.304,-0.079],[-0.291,-0.065],[-0.282,-0.070],[-0.277,-0.075],[-0.285,-0.088],[-0.292,-0.092],[-0.300,-0.101],[-0.272,-0.079],[-0.267,-0.088],[-0.259,-0.079],
[-0.252,-0.070],[-0.244,-0.088],[-0.236,-0.079],[-0.228,-0.084],[-0.221,-0.079],[-0.211,-0.084],[-0.203,-0.088],[-0.195,-0.084],[-0.185,-0.088],[-0.175,-0.092],
[-0.162,-0.092],[-0.154,-0.097],[-0.147,-0.088],[-0.126,-0.088],[-0.118,-0.097],[-0.108,-0.097],[-0.098,-0.070],[-0.090,-0.079],[-0.075,-0.081],[-0.065,-0.095],
[-0.057,-0.075],[-0.047,-0.079],[-0.036,-0.088],[-0.029,-0.095],[-0.019,-0.081],[-0.008,-0.088],
[-0.299,-0.112],[-0.309,-0.138],[-0.302,-0.130],[-0.287,-0.113],[-0.280,-0.106],[-0.272,-0.105],[-0.280,-0.123],[-0.264,-0.121],[-0.257,-0.124],[-0.249,-0.113],
[-0.241,-0.117],[-0.228,-0.117],[-0.216,-0.132],[-0.211,-0.115],[-0.203,-0.119],[-0.195,-0.110],[-0.194,-0.135],[-0.170,-0.106],[-0.149,-0.126],[-0.145,-0.138],
[-0.113,-0.114],[-0.100,-0.106],[-0.093,-0.116],[-0.070,-0.107],[-0.070,-0.118],[-0.053,-0.116],[-0.044,-0.113],[-0.019,-0.126],[-0.005,-0.115],
[-0.299,-0.150],[-0.318,-0.174],[-0.246,-0.156],[-0.233,-0.165],[-0.183,-0.162],[-0.035,-0.159],[-0.042,-0.182],[-0.030,-0.194],[-0.017,-0.205],[-0.113,-0.197],
[-0.162,-0.204],[-0.158,-0.215],[-0.147,-0.202],[-0.144,-0.214],[-0.237,-0.221],[-0.263,-0.249],[-0.202,-0.247],[-0.203,-0.257],[-0.243,-0.284],[-0.211,-0.290],
[-0.198,-0.304],[-0.128,-0.272],[-0.124,-0.309],[-0.043,-0.268],[-0.042,-0.274],[-0.204,-0.373],[-0.225,-0.386],
[-0.290,-0.084],[-0.280,-0.079],[-0.287,-0.101],[-0.277,-0.104],[-0.080,0.068],[-0.067,0.073],[-0.054,0.077],[-0.029,0.077],[-0.016,0.059],[-0.054,0.041],
[-0.029,0.041],[-0.067,0.015],[-0.042,0.010],[-0.016,0.032],[-0.011,0.010],[-0.093,0.037],[-0.080,0.041],
[0.115,0.119],[0.081,0.107],[0.093,0.107],[0.163,0.095],[0.161,0.078],[0.166,0.070],[0.200,0.069],[0.205,0.063],[0.214,0.054],[0.225,0.050],
[0.233,0.046],[0.180,0.062],[0.170,0.057],[0.175,0.044],[0.190,0.038],[0.203,0.037],[0.210,0.039],[0.226,0.032],[0.236,0.026],[0.244,0.029],
[0.255,0.027],[0.248,0.035],[0.214,0.021],[0.227,0.012],[0.253,0.016],[0.254,0.004],[0.264,0.002],[0.277,0.004],[0.296,0.004],[0.276,-0.011],
[0.287,-0.011],[0.264,-0.018],[0.285,-0.023],[0.296,-0.023],[0.310,-0.023],[0.318,-0.028],[0.244,-0.009],[0.231,-0.008],[0.241,-0.019],[0.251,-0.035],
[0.264,-0.039],[0.277,-0.030],[0.290,-0.046],[0.269,-0.043],[0.282,-0.051],[0.298,-0.055],[0.254,-0.057],[0.259,-0.066],[0.272,-0.066],[0.280,-0.068],
[0.290,-0.065],[0.300,-0.061],[0.315,-0.067],[0.321,-0.059],[0.359,-0.066],[0.228,-0.043],[0.218,-0.039],[0.234,-0.061],[0.239,-0.072],[0.228,-0.078],
[0.251,-0.077],[0.262,-0.084],[0.272,-0.081],[0.282,-0.083],[0.290,-0.081],[0.303,-0.083],[0.315,-0.089],[0.308,-0.104],[0.374,-0.124],[0.266,-0.109],
[0.230,-0.101],[0.230,-0.115],[0.242,-0.106],[0.251,-0.108],[0.254,-0.115],[0.233,-0.125],[0.250,-0.127],[0.264,-0.132],[0.257,-0.149],[0.262,-0.158],
[0.295,-0.151],[0.214,-0.146],[0.213,-0.205],
[0.001,0.124],[0.011,0.115],[0.018,0.122],[0.029,0.113],[0.042,0.104],[0.054,0.099],[0.067,0.095],[0.080,0.090],
[0.003,0.090],[0.013,0.081],[0.026,0.086],[0.039,0.077],[0.054,0.081],[0.070,0.086],[0.082,0.081],[0.095,0.084],[0.111,0.079],[0.123,0.075],
[0.136,0.073],[0.149,0.068],
[0.001,0.064],[0.013,0.059],[0.029,0.064],[0.044,0.059],[0.059,0.064],[0.075,0.061],[0.090,0.064],[0.106,0.059],[0.118,0.057],[0.131,0.055],
[0.144,0.057],[0.157,0.052],[0.167,0.050],
[0.006,0.041],[0.021,0.039],[0.036,0.041],[0.052,0.044],[0.067,0.039],[0.082,0.041],[0.098,0.039],[0.113,0.041],[0.129,0.037],[0.141,0.039],
[0.154,0.035],[0.164,0.032],[0.177,0.030],[0.190,0.026],
[0.003,0.019],[0.018,0.021],[0.034,0.019],[0.049,0.017],[0.065,0.021],[0.080,0.019],[0.095,0.017],[0.111,0.019],[0.126,0.015],[0.141,0.017],
[0.157,0.015],[0.172,0.012],[0.185,0.010],[0.198,0.008],
[0.008,-0.003],[0.024,-0.001],[0.039,-0.006],[0.054,-0.003],[0.070,-0.008],[0.085,-0.003],[0.100,-0.001],[0.116,-0.008],[0.131,-0.006],[0.146,-0.008],
[0.162,-0.006],[0.177,-0.008],[0.193,-0.010],[0.203,-0.014],
[0.003,-0.021],[0.018,-0.026],[0.034,-0.023],[0.049,-0.026],[0.065,-0.021],[0.080,-0.023],[0.095,-0.028],[0.111,-0.026],[0.126,-0.023],[0.141,-0.026],
[0.157,-0.028],[0.172,-0.026],[0.187,-0.030],
[0.006,-0.041],[0.024,-0.035],[0.036,-0.039],[0.052,-0.043],[0.067,-0.046],[0.082,-0.041],[0.100,-0.035],[0.116,-0.043],[0.131,-0.039],[0.144,-0.046],
[0.157,-0.043],[0.167,-0.047],[0.180,-0.043],[0.193,-0.052],[0.203,-0.050],
[0.001,-0.061],[0.013,-0.057],[0.029,-0.057],[0.042,-0.052],[0.054,-0.060],[0.070,-0.061],[0.085,-0.059],[0.100,-0.057],[0.116,-0.061],[0.131,-0.059],
[0.149,-0.061],[0.164,-0.059],[0.180,-0.063],[0.193,-0.070],
[0.006,-0.077],[0.021,-0.088],[0.036,-0.086],[0.047,-0.081],[0.062,-0.081],[0.070,-0.086],[0.085,-0.075],[0.100,-0.076],[0.116,-0.072],[0.137,-0.079],
[0.149,-0.066],[0.167,-0.074],[0.187,-0.084],[0.195,-0.089],
[0.021,-0.113],[0.029,-0.116],[0.036,-0.106],[0.047,-0.110],[0.052,-0.092],[0.067,-0.098],[0.080,-0.106],[0.093,-0.100],[0.111,-0.104],[0.116,-0.119],
[0.122,-0.100],[0.134,-0.117],[0.141,-0.098],[0.152,-0.108],[0.157,-0.096],[0.172,-0.098],[0.177,-0.111],[0.182,-0.125],[0.208,-0.104],
[0.022,-0.150],[0.013,-0.173],[0.036,-0.188],[0.040,-0.177],[0.052,-0.171],[0.056,-0.160],[0.088,-0.159],[0.074,-0.138],[0.084,-0.134],[0.099,-0.139],
[0.122,-0.141],[0.131,-0.137],[0.140,-0.146],[0.149,-0.150],[0.162,-0.163],[0.175,-0.168],[0.167,-0.183],[0.171,-0.192],[0.178,-0.189],[0.193,-0.168],
[0.193,-0.179],[0.095,-0.196],[0.094,-0.206],[0.141,-0.203],[0.149,-0.200],[0.150,-0.212],[0.131,-0.220],[0.172,-0.223],[0.071,-0.239],[0.116,-0.251],
[0.162,-0.271],[0.102,-0.278],[0.068,-0.286],[0.066,-0.295],[0.096,-0.290],[0.171,-0.295],[0.014,-0.301],[0.085,-0.310],[0.080,-0.321],[0.071,-0.338],
[-0.002,-0.115],[0.002,-0.088],[-0.002,-0.066]
];
// RAFFT: overlapping observations in the densest places
const rafftDensePts = [
[-0.158,0.193],[-0.223,0.139],[-0.159,0.122],[-0.239,0.055],[-0.267,0.006],[-0.195,-0.008],[-0.083,0.077],[-0.309,-0.022],[-0.292,-0.026],[-0.260,-0.022],
[-0.246,-0.030],[-0.236,-0.032],[-0.252,-0.041],[-0.282,-0.070],[-0.285,-0.088],[-0.300,-0.101],[-0.287,-0.113],[-0.280,-0.106],[-0.272,-0.105],[-0.216,-0.132],
[-0.100,-0.106],[-0.070,-0.107],[-0.211,-0.290],[0.233,0.046],[0.296,0.004],[0.276,-0.011],[0.241,-0.019],[0.282,-0.051],[0.298,-0.055],[0.321,-0.059],
[0.303,-0.083],[0.024,-0.035],[0.100,-0.035],[0.167,-0.047],[0.040,-0.177],[0.116,-0.251],[0.096,-0.290],[0.054,0.081],[0.090,0.064],[0.067,0.039],
[-0.060,0.100],[-0.030,0.100],[0.000,0.100],[0.030,0.100],[0.050,0.100],
[-0.100,0.088],[-0.075,0.088],[-0.050,0.088],[-0.025,0.088],[0.000,0.088],[0.020,0.088],[0.045,0.088],[0.065,0.088],[0.090,0.088],
[-0.110,0.070],[-0.085,0.070],[-0.060,0.070],[-0.035,0.070],[-0.010,0.070],[0.020,0.070],[0.045,0.070],[0.070,0.070],[0.095,0.070],[0.120,0.070],[0.140,0.070],
[-0.120,0.050],[-0.095,0.050],[-0.070,0.050],[-0.045,0.050],[-0.020,0.050],[0.005,0.050],[0.030,0.050],[0.055,0.050],[0.080,0.050],[0.105,0.050],[0.130,0.050],
[0.155,0.050],[0.180,0.050],
[-0.130,0.030],[-0.105,0.030],[-0.080,0.030],[-0.055,0.030],[-0.030,0.030],[-0.005,0.030],[0.020,0.030],[0.045,0.030],[0.070,0.030],[0.095,0.030],[0.120,0.030],
[0.145,0.030],[0.170,0.030],[0.200,0.030],[0.220,0.030],
[-0.120,0.010],[-0.095,0.010],[-0.070,0.010],[-0.045,0.010],[-0.020,0.010],[0.010,0.010],[0.035,0.010],[0.060,0.010],[0.085,0.010],[0.110,0.010],[0.135,0.010],
[0.160,0.010],[0.190,0.010],[0.215,0.010],[0.240,0.010],
[-0.100,-0.012],[-0.075,-0.012],[-0.050,-0.012],[-0.025,-0.012],[0.015,-0.012],[0.040,-0.012],[0.065,-0.012],[0.090,-0.012],[0.120,-0.012],[0.150,-0.012],
[0.180,-0.012],[0.210,-0.012],[0.250,-0.012],
[-0.080,-0.033],[-0.050,-0.033],[-0.020,-0.033],[0.015,-0.033],[0.045,-0.033],[0.075,-0.033],[0.105,-0.033],[0.135,-0.033],[0.165,-0.033],[0.200,-0.033],
[0.230,-0.033],[0.260,-0.033],
[0.020,-0.050],[0.050,-0.050],[0.085,-0.050],[0.120,-0.050],[0.150,-0.050],[0.180,-0.050],[0.215,-0.050],[0.250,-0.050],[0.280,-0.050],
[-0.230,0.000],[-0.200,0.000],[-0.170,0.000],[-0.270,-0.045],[-0.240,-0.045],[-0.210,-0.045],[-0.170,-0.045],[-0.300,-0.070],[-0.260,-0.070],[-0.220,-0.070],
[-0.190,-0.070],[-0.245,0.045],[-0.200,0.045],[-0.165,0.045],
[-0.088,0.094],[-0.063,0.094],[-0.038,0.094],[-0.013,0.094],[0.012,0.094],[0.037,0.094],
[-0.098,0.079],[-0.073,0.079],[-0.048,0.079],[-0.023,0.079],[0.002,0.079],[0.027,0.079],[0.052,0.079],[0.077,0.079],[0.102,0.079],
[-0.118,0.060],[-0.093,0.060],[-0.068,0.060],[-0.043,0.060],[-0.018,0.060],[0.007,0.060],[0.032,0.060],[0.057,0.060],[0.082,0.060],[0.107,0.060],[0.132,0.060],[0.157,0.060],
[-0.128,0.040],[-0.103,0.040],[-0.078,0.040],[-0.053,0.040],[-0.028,0.040],[-0.003,0.040],[0.022,0.040],[0.047,0.040],[0.072,0.040],[0.097,0.040],[0.122,0.040],
[0.147,0.040],[0.172,0.040],[0.197,0.040],
[-0.118,0.020],[-0.093,0.020],[-0.068,0.020],[-0.043,0.020],[-0.018,0.020],[0.007,0.020],[0.032,0.020],[0.057,0.020],[0.082,0.020],[0.107,0.020],[0.132,0.020],
[0.157,0.020],[0.182,0.020],[0.207,0.020],[0.232,0.020],
[-0.098,0.000],[-0.073,0.000],[-0.048,0.000],[-0.023,0.000],[0.002,0.000],[0.027,0.000],[0.052,0.000],[0.077,0.000],[0.102,0.000],[0.127,0.000],[0.152,0.000],
[0.177,0.000],[0.202,0.000],[0.227,0.000],
[-0.068,-0.022],[-0.043,-0.022],[-0.018,-0.022],[0.007,-0.022],[0.032,-0.022],[0.057,-0.022],[0.082,-0.022],[0.107,-0.022],[0.137,-0.022],[0.167,-0.022],
[0.197,-0.022],[0.227,-0.022],
[0.007,-0.042],[0.037,-0.042],[0.067,-0.042],[0.097,-0.042],[0.127,-0.042],[0.157,-0.042],[0.187,-0.042],[0.217,-0.042],[0.247,-0.042]
];
const rafftArrowNames = ['M', 'S', 'B', 'I', 'H', 'E'];
const rafftArrowTips = [[-0.113,0.206],[0.036,0.147],[0.034,0.073],[0.259,-0.052],[-0.196,-0.151],[-0.011,-0.190]];
const rafftArrowLabelAt = [[-0.083,0.215],[0.045,0.172],[0.057,0.087],[0.214,-0.010],[-0.168,-0.084],[0.016,-0.169]];

const SERIF = "'DejaVu Serif', 'Liberation Serif', serif";
const dotColor = 'rgba(128,128,128,0.5)';

// arrow heads, arrow letters, frame and panel title
const biplotDecor = {
  id: 'biplotDecor',
  afterDatasetsDraw(chart, args, opts) {
    const { ctx, scales: { x, y } } = chart;
    const x0 = x.getPixelForValue(0), y0 = y.getPixelForValue(0);
    ctx.save();
    ctx.fillStyle = '#000';
    opts.tips.forEach(t => {
      const x1 = x.getPixelForValue(t[0]), y1 = y.getPixelForValue(t[1]);
      const len = Math.hypot(x1 - x0, y1 - y0);
      const ux = (x1 - x0) / len, uy = (y1 - y0) / len;
      const hl = 50, hw = 19;
      const bx = x1 - ux * hl, by = y1 - uy * hl;
      ctx.beginPath();
      ctx.moveTo(x1 + ux * 2, y1 + uy * 2);
      ctx.lineTo(bx - uy * hw, by + ux * hw);
      ctx.lineTo(bx + uy * hw, by - ux * hw);
      ctx.closePath();
      ctx.fill();
    });
    ctx.font = '62px ' + SERIF;
    ctx.textAlign = 'center';
    ctx.textBaseline = 'middle';
    opts.names.forEach((n, i) => {
      const p = opts.labelAt[i];
      ctx.fillText(n, x.getPixelForValue(p[0]), y.getPixelForValue(p[1]));
    });
    ctx.restore();
  },
  afterDraw(chart, args, opts) {
    const { ctx, chartArea: a } = chart;
    ctx.save();
    ctx.strokeStyle = '#000';
    ctx.lineWidth = 3;
    ctx.strokeRect(a.left, a.top, a.right - a.left, a.bottom - a.top);
    ctx.fillStyle = '#000';
    ctx.font = '86px ' + SERIF;
    ctx.textAlign = 'center';
    ctx.textBaseline = 'middle';
    ctx.fillText(opts.title, (a.left + a.right) / 2, 62);
    ctx.restore();
  }
};

function makePanel(id, p) {
  const arrowSets = p.tips.map(t => ({
    data: [{ x: 0, y: 0 }, { x: t[0], y: t[1] }],
    showLine: true, borderColor: '#000', borderWidth: 6, pointRadius: 0, order: 1
  }));
  return new Chart(document.getElementById(id), {
    type: 'scatter',
    data: {
      datasets: arrowSets.concat([{
        data: p.pts.map(q => ({ x: q[0], y: q[1] })),
        pointRadius: 7, borderWidth: 3.5,
        backgroundColor: dotColor, borderColor: dotColor, order: 2
      }])
    },
    options: {
      responsive: false, animation: false, devicePixelRatio: 1, events: [],
      layout: { padding: { top: 120, right: p.padRight, bottom: 0, left: 0 } },
      plugins: {
        legend: { display: false },
        tooltip: { enabled: false },
        biplotDecor: { title: p.title, tips: p.tips, names: p.names, labelAt: p.labelAt }
      },
      scales: {
        x: {
          type: 'linear', min: -0.4, max: 0.4,
          afterBuildTicks: s => { s.ticks = xTicks.map(v => ({ value: v })); },
          afterFit: s => { s.height = 157; },
          ticks: {
            callback: v => xTickLabels[xTicks.indexOf(v)],
            font: { family: SERIF, size: 62 }, color: '#000', padding: 10,
            maxRotation: 0, autoSkip: false
          },
          grid: { color: '#a0a0a0', lineWidth: 1, tickColor: '#000', tickWidth: 3, tickLength: 15, borderDash: [4, 2] },
          border: { display: true, color: '#000', width: 3, dash: [4, 2] },
          title: { display: true, text: 'PC1', color: '#000', font: { family: SERIF, size: 62, lineHeight: 1 }, padding: { top: 0, bottom: 2 } }
        },
        y: {
          type: 'linear', min: -0.4, max: 0.3,
          afterBuildTicks: s => { s.ticks = yTicks.map(v => ({ value: v })); },
          afterFit: s => { s.width = p.axisWidth; },
          ticks: {
            display: p.showY,
            callback: v => yTickLabels[yTicks.indexOf(v)],
            font: { family: SERIF, size: 62 }, color: '#000', padding: 17, autoSkip: false
          },
          grid: { color: '#a0a0a0', lineWidth: 1, drawTicks: p.showY, tickColor: '#000', tickWidth: 3, tickLength: 15, borderDash: [4, 2] },
          border: { display: true, color: '#000', width: 3, dash: [4, 2] },
          title: { display: p.showY, text: 'PC2', color: '#000', font: { family: SERIF, size: 62, lineHeight: 1 }, padding: { top: 11, bottom: 0 } }
        }
      }
    },
    plugins: [biplotDecor]
  });
}

makePanel('ml', { title: 'ML', pts: mlPts.concat(mlDensePts), tips: mlArrowTips, names: mlArrowNames, labelAt: mlArrowLabelAt, axisWidth: 271, padRight: 73, showY: true });
makePanel('mfe', { title: 'MFE', pts: mfePts.concat(mfeDensePts), tips: mfeArrowTips, names: mfeArrowNames, labelAt: mfeArrowLabelAt, axisWidth: 117, padRight: 67, showY: false });
makePanel('rafft', { title: 'RAFFT', pts: rafftPts.concat(rafftDensePts), tips: rafftArrowTips, names: rafftArrowNames, labelAt: rafftArrowLabelAt, axisWidth: 113, padRight: 71, showY: false });
</script>
</body>
</html>
